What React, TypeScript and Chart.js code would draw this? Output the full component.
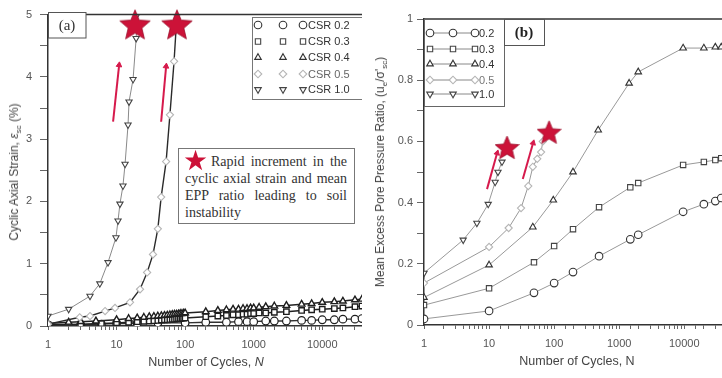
import React, { useEffect, useRef } from 'react';
import { Chart, registerables } from 'chart.js';
import { drawPoint } from 'chart.js/helpers';

Chart.register(...registerables);

// ---------------- Panel (a): cyclic axial strain ----------------
const cyclesA_csr02 = [1, 3, 6, 10, 20, 40, 100, 200, 400, 600, 800, 1000, 1500, 2000, 3000, 5000, 7000, 10000, 15000, 20000, 30000, 38000];
const strainA_csr02 = [0.01, 0.02, 0.03, 0.04, 0.04, 0.05, 0.05, 0.06, 0.06, 0.07, 0.07, 0.07, 0.08, 0.08, 0.08, 0.09, 0.09, 0.1, 0.1, 0.11, 0.11, 0.12];

const cyclesA_csr03 = [1, 3, 6, 10, 15, 20, 25, 30, 35, 40, 45, 50, 55, 60, 65, 70, 75, 80, 85, 90, 95, 100, 200, 300, 400, 500, 600, 700, 800, 900, 1000, 1200, 1500, 2000, 3000, 5000, 7000, 10000, 15000, 20000, 30000, 38000];
const strainA_csr03 = [0.02, 0.03, 0.04, 0.05, 0.06, 0.07, 0.075, 0.08, 0.085, 0.09, 0.095, 0.1, 0.1, 0.105, 0.11, 0.11, 0.115, 0.12, 0.12, 0.125, 0.125, 0.13, 0.15, 0.16, 0.17, 0.18, 0.18, 0.19, 0.19, 0.2, 0.2, 0.21, 0.21, 0.22, 0.23, 0.25, 0.26, 0.27, 0.28, 0.29, 0.31, 0.32];

const cyclesA_csr04 = [1, 2, 3, 5, 10, 15, 20, 25, 30, 35, 40, 45, 50, 55, 60, 65, 70, 75, 80, 85, 90, 95, 100, 200, 300, 400, 500, 600, 700, 800, 900, 1000, 1200, 1500, 2000, 3000, 5000, 7000, 10000, 15000, 20000, 30000, 38000];
const strainA_csr04 = [0.04, 0.06, 0.07, 0.08, 0.1, 0.12, 0.13, 0.14, 0.15, 0.155, 0.16, 0.165, 0.17, 0.175, 0.18, 0.185, 0.19, 0.19, 0.195, 0.2, 0.2, 0.205, 0.21, 0.23, 0.25, 0.26, 0.27, 0.27, 0.28, 0.28, 0.29, 0.29, 0.3, 0.31, 0.32, 0.33, 0.35, 0.36, 0.38, 0.39, 0.4, 0.42, 0.43];

const cyclesA_csr05 = [1, 2.9, 4.1, 6.8, 9.5, 15.7, 22, 27.9, 34, 40, 44.7, 52.8, 60, 69, 76];
const strainA_csr05 = [0.03, 0.14, 0.16, 0.24, 0.29, 0.38, 0.59, 0.86, 1.15, 1.56, 2.07, 2.64, 3.39, 4.25, 5.0];

const cyclesA_csr10 = [1, 2, 4.1, 5.7, 7.5, 9.8, 10.5, 11.2, 12.4, 13.3, 14.7, 15.2, 17.4, 19.3, 20];
const strainA_csr10 = [0.16, 0.27, 0.48, 0.68, 1.02, 1.42, 1.69, 1.96, 2.25, 2.6, 3.23, 3.6, 3.96, 4.62, 5.0];

const starsA_cycles = [18.6, 76];
const starsA_strain = [4.84, 4.84];
const arrowsA = [
  { tail: [8.9, 3.28], head: [10.9, 4.19] },
  { tail: [44.7, 3.28], head: [52.8, 4.17] },
];

// ---------------- Panel (b): mean excess pore pressure ratio ----------------
const cyclesB_csr02 = [1, 10, 49, 100, 195, 490, 1480, 1960, 9600, 20000, 30000, 37000];
const ratioB_csr02 = [0.02, 0.046, 0.105, 0.137, 0.173, 0.225, 0.28, 0.295, 0.37, 0.395, 0.405, 0.415];

const cyclesB_csr03 = [1, 10, 49, 100, 195, 490, 1480, 1960, 9600, 20000, 30000, 37000];
const ratioB_csr03 = [0.065, 0.12, 0.205, 0.258, 0.313, 0.385, 0.45, 0.464, 0.523, 0.533, 0.539, 0.545];

const cyclesB_csr04 = [1, 10, 47, 97, 195, 475, 1420, 1960, 9600, 20000, 30000, 37000];
const ratioB_csr04 = [0.09, 0.196, 0.32, 0.408, 0.5, 0.637, 0.79, 0.827, 0.905, 0.905, 0.908, 0.908];

const cyclesB_csr05 = [1, 10, 20, 31, 40, 47, 55, 63, 67];
const ratioB_csr05 = [0.137, 0.255, 0.317, 0.382, 0.454, 0.517, 0.543, 0.565, 0.6];

const cyclesB_csr10 = [1, 4, 6.5, 9.7, 12.4, 13.7, 15.8];
const ratioB_csr10 = [0.17, 0.278, 0.333, 0.395, 0.467, 0.5, 0.533];

const starsB_cycles = [18.9, 83.7];
const starsB_ratio = [0.58, 0.63];
const arrowsB = [
  { tail: [9.3, 0.444], head: [13.3, 0.562] },
  { tail: [33, 0.477], head: [47.5, 0.595] },
];

const legendLabelsA = ['CSR 0.2', 'CSR 0.3', 'CSR 0.4', 'CSR 0.5', 'CSR 1.0'];
const legendLabelsB = ['0.2', '0.3', '0.4', '0.5', '1.0'];
const xTickMax = 38000;

// ---------------- helpers ----------------
const zip = (xs: number[], ys: number[]) => xs.map((x, i) => ({ x, y: ys[i] }));

const STAR_RED = '#cc1238';
const ARROW_RED = '#d61a4c';
const SANS = '"Liberation Sans", Arial, sans-serif';
const SERIF = '"Liberation Serif", "Times New Roman", serif';

type MarkerStyle = { style: string; rotation: number; color: string };
const markers: MarkerStyle[] = [
  { style: 'circle', rotation: 0, color: '#333' },
  { style: 'rect', rotation: 0, color: '#444' },
  { style: 'triangle', rotation: 0, color: '#333' },
  { style: 'rectRot', rotation: 0, color: '#b5b5b5' },
  { style: 'triangle', rotation: 180, color: '#444' },
];
const darkMarkers: MarkerStyle[] = markers.map((m, i) => (i < 3 ? { ...m, color: '#1e1e1e' } : m));

function makeStar(size: number, color: string) {
  const c = document.createElement('canvas');
  c.width = size;
  c.height = size;
  const g = c.getContext('2d')!;
  const R = size / 2;
  const r = R * 0.45;
  const cy = R * 1.08;
  g.beginPath();
  for (let i = 0; i < 10; i++) {
    const rad = i % 2 === 0 ? R : r;
    const a = -Math.PI / 2 + (i * Math.PI) / 5;
    g.lineTo(R + rad * Math.cos(a), cy + rad * Math.sin(a));
  }
  g.closePath();
  g.fillStyle = color;
  g.fill();
  g.strokeStyle = '#9a0c2a';
  g.lineWidth = 0.8;
  g.stroke();
  return c;
}

function drawMarker(ctx: CanvasRenderingContext2D, m: MarkerStyle, x: number, y: number, r: number) {
  ctx.save();
  ctx.strokeStyle = m.color;
  ctx.fillStyle = '#fff';
  ctx.lineWidth = 1.1;
  drawPoint(ctx, { pointStyle: m.style as any, radius: r, rotation: m.rotation, borderWidth: 1.1 } as any, x, y);
  ctx.restore();
}

function logTickLabel(v: number) {
  const l = Math.log10(v);
  return Math.abs(l - Math.round(l)) < 1e-9 ? String(Math.round(v)) : '';
}

function seriesDataset(data: { x: number; y: number }[], m: MarkerStyle, lineColor: string, lineWidth: number, radius: number, markerWidth = 1.1) {
  return {
    data,
    borderColor: lineColor,
    borderWidth: lineWidth,
    pointStyle: m.style,
    pointRotation: m.rotation,
    pointRadius: radius,
    pointBorderColor: m.color,
    pointBackgroundColor: '#fff',
    pointBorderWidth: markerWidth,
    tension: 0,
    fill: false,
  };
}

function arrowDatasets(arrows: { tail: number[]; head: number[] }[], rotation: number) {
  return arrows.map((a) => ({
    data: [{ x: a.tail[0], y: a.tail[1] }, { x: a.head[0], y: a.head[1] }],
    borderColor: ARROW_RED,
    borderWidth: 2,
    pointStyle: 'triangle',
    pointRotation: rotation,
    pointRadius: [0, 3.2],
    pointBorderColor: ARROW_RED,
    pointBackgroundColor: ARROW_RED,
    pointBorderWidth: 1,
    clip: false as any,
  }));
}

function axisCommon(fontSize: number) {
  return {
    font: { family: SANS, size: fontSize },
    color: '#555',
  };
}

function fitX(h: number) {
  return (s: any) => {
    s.height = h;
    s.paddingRight = 0;
    s.paddingLeft = 0;
  };
}

// ---------------- plugins ----------------
const frameA = {
  id: 'frameA',
  afterDraw(chart: any) {
    const { ctx, chartArea: ca } = chart;
    ctx.save();
    ctx.strokeStyle = '#333';
    ctx.lineWidth = 1.5;
    ctx.beginPath();
    ctx.moveTo(ca.left, ca.top);
    ctx.lineTo(ca.right, ca.top);
    ctx.stroke();

    // (a) label box
    ctx.lineWidth = 1;
    ctx.strokeStyle = '#555';
    ctx.fillStyle = '#fff';
    ctx.fillRect(48, 12, 38, 26);
    ctx.strokeRect(48.5, 12.5, 37.5, 25.5);
    ctx.fillStyle = '#333';
    ctx.font = `15px ${SERIF}`;
    ctx.textAlign = 'center';
    ctx.textBaseline = 'middle';
    ctx.fillText('(a)', 67, 26);

    // legend box
    ctx.fillStyle = '#fff';
    ctx.fillRect(252, 17, 115, 82);
    ctx.strokeStyle = '#777';
    ctx.strokeRect(252.5, 17.5, 115, 82);
    const rows = [25, 41.5, 57.5, 74, 89.5];
    ctx.font = `11px ${SANS}`;
    ctx.textAlign = 'left';
    rows.forEach((y, i) => {
      const m = markers[i];
      [258, 283, 303].forEach((x) => drawMarker(ctx, m, x, y, 3.8));
      ctx.fillStyle = i === 3 ? '#666' : '#333';
      ctx.fillText(legendLabelsA[i], 308, y + 0.5);
    });
    ctx.restore();
  },
};

const frameB = {
  id: 'frameB',
  afterDraw(chart: any) {
    const { ctx, chartArea: ca } = chart;
    ctx.save();
    ctx.strokeStyle = '#333';
    ctx.lineWidth = 1.5;
    ctx.beginPath();
    ctx.moveTo(ca.left, ca.top);
    ctx.lineTo(ca.right, ca.top);
    ctx.stroke();

    // legend box
    ctx.lineWidth = 1;
    ctx.fillStyle = '#fff';
    ctx.fillRect(62, 19, 80, 87);
    ctx.strokeStyle = '#666';
    ctx.strokeRect(62.5, 19.5, 80, 87);
    const rows = [33, 49, 64, 80, 94];
    ctx.font = `11px ${SANS}`;
    ctx.textAlign = 'left';
    ctx.textBaseline = 'middle';
    rows.forEach((y, i) => {
      const m = markers[i];
      ctx.strokeStyle = '#888';
      ctx.lineWidth = 1;
      ctx.beginPath();
      ctx.moveTo(68, y);
      ctx.lineTo(113, y);
      ctx.stroke();
      [68, 91, 113].forEach((x) => drawMarker(ctx, m, x, y, 3.8));
      ctx.fillStyle = i === 3 ? '#777' : '#333';
      ctx.fillText(legendLabelsB[i], 117, y + 0.5);
    });

    // (b) label box
    ctx.fillStyle = '#fff';
    ctx.fillRect(142, 19, 40, 26);
    ctx.strokeStyle = '#555';
    ctx.strokeRect(142.5, 19.5, 40, 26);
    ctx.fillStyle = '#222';
    ctx.font = `bold 15px ${SERIF}`;
    ctx.textAlign = 'center';
    ctx.fillText('(b)', 162, 33);
    ctx.restore();
  },
};

function configA(star: HTMLCanvasElement): any {
  return {
    type: 'line',
    data: {
      datasets: [
        {
          data: zip(starsA_cycles, starsA_strain),
          showLine: false,
          pointStyle: star,
          pointRadius: 12,
          clip: false,
        },
        ...arrowDatasets(arrowsA, 6),
        seriesDataset(zip(cyclesA_csr10, strainA_csr10), markers[4], '#8a8a8a', 1, 3.6),
        seriesDataset(zip(cyclesA_csr05, strainA_csr05), markers[3], '#2a2a2a', 1.4, 3.6),
        seriesDataset(zip(cyclesA_csr04, strainA_csr04), darkMarkers[2], '#222', 1.5, 3.8, 1.4),
        seriesDataset(zip(cyclesA_csr03, strainA_csr03), darkMarkers[1], '#222', 1.5, 3.8, 1.4),
        seriesDataset(zip(cyclesA_csr02, strainA_csr02), darkMarkers[0], '#333', 1.3, 3.8, 1.2),
      ],
    },
    options: {
      responsive: false,
      animation: false,
      events: [],
      layout: { autoPadding: false, padding: { top: 12, right: 0, left: 0, bottom: 0 } },
      plugins: { legend: { display: false }, tooltip: { enabled: false } },
      scales: {
        x: {
          type: 'logarithmic',
          min: 1,
          max: xTickMax,
          afterFit: fitX(52),
          border: { display: true, color: '#333', width: 1.5 },
          grid: { drawOnChartArea: false, drawTicks: true, tickLength: 4, tickColor: '#666' },
          ticks: { ...axisCommon(11), autoSkip: false, maxRotation: 0, padding: 8, callback: (v: number) => logTickLabel(v) },
        },
        y: {
          type: 'linear',
          min: 0,
          max: 5,
          afterFit: (s: any) => { s.width = 48; },
          border: { display: true, color: '#333', width: 1.5 },
          grid: { drawOnChartArea: false, drawTicks: true, tickLength: 8, tickColor: '#666' },
          ticks: { ...axisCommon(11), stepSize: 0.5, padding: 8, callback: (v: number) => (Number.isInteger(v) ? String(v) : '') },
        },
      },
    },
    plugins: [frameA],
  };
}

function configB(star: HTMLCanvasElement): any {
  return {
    type: 'line',
    data: {
      datasets: [
        {
          data: zip(starsB_cycles, starsB_ratio),
          showLine: false,
          pointStyle: star,
          pointRadius: 10,
          clip: false,
        },
        ...arrowDatasets(arrowsB, 15),
        seriesDataset(zip(cyclesB_csr10, ratioB_csr10), markers[4], '#999', 1, 3.6),
        seriesDataset(zip(cyclesB_csr05, ratioB_csr05), markers[3], '#999', 1, 3.6),
        seriesDataset(zip(cyclesB_csr04, ratioB_csr04), markers[2], '#999', 1, 3.8),
        seriesDataset(zip(cyclesB_csr03, ratioB_csr03), markers[1], '#999', 1, 3.8),
        seriesDataset(zip(cyclesB_csr02, ratioB_csr02), markers[0], '#999', 1, 3.8),
      ],
    },
    options: {
      responsive: false,
      animation: false,
      events: [],
      layout: { autoPadding: false, padding: { top: 19, right: 0, left: 0, bottom: 0 } },
      plugins: { legend: { display: false }, tooltip: { enabled: false } },
      scales: {
        x: {
          type: 'logarithmic',
          min: 1,
          max: xTickMax,
          afterFit: fitX(53),
          border: { display: true, color: '#333', width: 1.5 },
          grid: { drawOnChartArea: false, drawTicks: true, tickLength: 4, tickColor: '#666' },
          ticks: { ...axisCommon(11), autoSkip: false, maxRotation: 0, padding: 8, callback: (v: number) => logTickLabel(v) },
        },
        y: {
          type: 'linear',
          min: 0,
          max: 1,
          afterFit: (s: any) => { s.width = 62; },
          border: { display: true, color: '#333', width: 1.5 },
          grid: { drawOnChartArea: false, drawTicks: true, tickLength: 7, tickColor: '#666' },
          ticks: {
            ...axisCommon(11),
            stepSize: 0.1,
            padding: 4,
            callback: (v: number) => {
              const k = Math.round(v * 10);
              if (k % 2 !== 0) return '';
              return k === 0 ? '0' : k === 10 ? '1' : (k / 10).toFixed(1);
            },
          },
        },
      },
    },
    plugins: [frameB],
  };
}

export default function App() {
  const refA = useRef<HTMLCanvasElement>(null);
  const refB = useRef<HTMLCanvasElement>(null);

  useEffect(() => {
    const starA = makeStar(32, STAR_RED);
    const starB = makeStar(25, STAR_RED);
    const a = new Chart(refA.current!, configA(starA));
    const b = new Chart(refB.current!, configB(starB));
    return () => {
      a.destroy();
      b.destroy();
    };
  }, []);

  const titleStyle: React.CSSProperties = {
    position: 'absolute',
    whiteSpace: 'nowrap',
    fontFamily: SANS,
    fontSize: 12,
    lineHeight: '14px',
    color: '#444',
  };
  const subStyle: React.CSSProperties = { fontSize: 8, verticalAlign: 'sub', lineHeight: 0 };
  const justifyLine: React.CSSProperties = { textAlign: 'justify', textAlignLast: 'justify' as any, height: 17 };

  return (
    <div style={{ position: 'fixed', left: 0, top: 0, width: 722, height: 378, background: '#fff', overflow: 'hidden' }}>
      <canvas ref={refA} width={362} height={378} style={{ position: 'absolute', left: 0, top: 0 }} />
      <canvas ref={refB} width={360} height={378} style={{ position: 'absolute', left: 362, top: 0 }} />

      {/* axis titles */}
      <div style={{ ...titleStyle, left: 14, top: 172, transform: 'translate(-50%, -50%) rotate(-90deg)' }}>
        Cyclic Axial Strain, <span style={{ fontStyle: 'italic' }}>ε</span>
        <span style={subStyle}>sc</span> (%)
      </div>
      <div style={{ ...titleStyle, fontSize: 12.5, left: 206, top: 362, transform: 'translate(-50%, -50%)' }}>
        Number of Cycles, <i>N</i>
      </div>
      <div style={{ ...titleStyle, left: 380, top: 172, transform: 'translate(-50%, -50%) rotate(-90deg)' }}>
        Mean Excess Pore Pressure Ratio, (u<span style={subStyle}>e</span>/σ'<span style={subStyle}>sc</span>)
      </div>
      <div style={{ ...titleStyle, fontSize: 12.5, left: 577, top: 361, transform: 'translate(-50%, -50%)' }}>
        Number of Cycles, N
      </div>

      {/* annotation box */}
      <div
        style={{
          position: 'absolute',
          left: 178,
          top: 148,
          width: 177,
          height: 76,
          boxSizing: 'border-box',
          border: '1px solid #777',
          background: '#fff',
          padding: '4px 7px 0 6px',
          fontFamily: SERIF,
          fontSize: 14,
          lineHeight: '17px',
          color: '#333',
        }}
      >
        <div style={{ display: 'flex', height: 17 }}>
          <span style={{ position: 'relative', width: 26, flex: 'none' }}>
            <span style={{ position: 'absolute', left: -2, top: -6, fontSize: 28, lineHeight: '28px', color: STAR_RED, fontFamily: '"DejaVu Sans", sans-serif' }}>★</span>
          </span>
          <div style={{ ...justifyLine, flex: 1 }}>Rapid increment in the</div>
        </div>
        <div style={justifyLine}>cyclic axial strain and mean</div>
        <div style={justifyLine}>EPP ratio leading to soil</div>
        <div style={{ height: 17 }}>instability</div>
      </div>
    </div>
  );
}
